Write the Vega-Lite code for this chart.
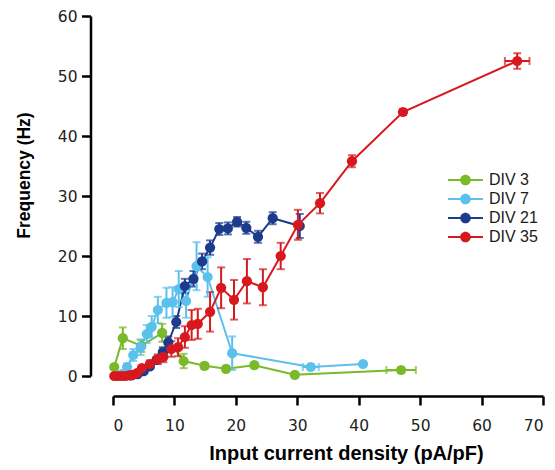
{
  "$schema": "https://vega.github.io/schema/vega-lite/v6.json",
  "width": 430,
  "height": 360,
  "autosize": {"type": "none"},
  "padding": {"left": 113, "top": 16, "right": 12, "bottom": 94},
  "background": "white",
  "data": {"values": [
    {"s":"DIV 3","x":0.2,"y":1.5,"e":0.4},
    {"s":"DIV 3","x":1.6,"y":6.3,"e":1.8},
    {"s":"DIV 3","x":4.6,"y":5.0,"e":1.0},
    {"s":"DIV 3","x":8.0,"y":7.2,"e":1.5},
    {"s":"DIV 3","x":11.5,"y":2.5,"e":1.2},
    {"s":"DIV 3","x":14.9,"y":1.7,"e":0.5},
    {"s":"DIV 3","x":18.4,"y":1.2,"e":0.5},
    {"s":"DIV 3","x":23.0,"y":1.8,"e":0.4},
    {"s":"DIV 3","x":29.6,"y":0.2,"e":0.4},
    {"s":"DIV 3","x":46.9,"y":1.0,"e":0.4,"xe":2.4},
    {"s":"DIV 7","x":1.5,"y":0.3,"e":0.2},
    {"s":"DIV 7","x":2.3,"y":1.5,"e":0.6},
    {"s":"DIV 7","x":3.3,"y":3.5,"e":1.0},
    {"s":"DIV 7","x":4.5,"y":4.8,"e":1.3},
    {"s":"DIV 7","x":5.5,"y":7.0,"e":1.5},
    {"s":"DIV 7","x":6.3,"y":8.2,"e":1.8},
    {"s":"DIV 7","x":7.3,"y":11.0,"e":2.2},
    {"s":"DIV 7","x":8.7,"y":12.2,"e":2.5},
    {"s":"DIV 7","x":9.7,"y":12.3,"e":2.5},
    {"s":"DIV 7","x":10.7,"y":14.5,"e":3.0},
    {"s":"DIV 7","x":11.9,"y":12.5,"e":2.8},
    {"s":"DIV 7","x":13.6,"y":18.3,"e":4.0},
    {"s":"DIV 7","x":15.4,"y":16.5,"e":3.3},
    {"s":"DIV 7","x":19.4,"y":3.8,"e":2.8},
    {"s":"DIV 7","x":32.2,"y":1.5,"e":0.4,"xe":1.3},
    {"s":"DIV 7","x":40.7,"y":2.0,"e":0.3},
    {"s":"DIV 21","x":3.0,"y":0.1,"e":0.1},
    {"s":"DIV 21","x":4.0,"y":0.3,"e":0.2},
    {"s":"DIV 21","x":5.0,"y":0.8,"e":0.3},
    {"s":"DIV 21","x":6.0,"y":1.6,"e":0.4},
    {"s":"DIV 21","x":7.1,"y":2.7,"e":0.5},
    {"s":"DIV 21","x":8.1,"y":4.0,"e":0.8},
    {"s":"DIV 21","x":9.0,"y":5.6,"e":1.0},
    {"s":"DIV 21","x":10.3,"y":9.0,"e":1.0},
    {"s":"DIV 21","x":11.7,"y":15.0,"e":1.2},
    {"s":"DIV 21","x":13.1,"y":16.2,"e":1.3},
    {"s":"DIV 21","x":14.5,"y":19.1,"e":1.3},
    {"s":"DIV 21","x":15.8,"y":21.4,"e":1.2},
    {"s":"DIV 21","x":17.3,"y":24.5,"e":1.0},
    {"s":"DIV 21","x":18.7,"y":24.6,"e":1.0},
    {"s":"DIV 21","x":20.2,"y":25.7,"e":0.8},
    {"s":"DIV 21","x":21.7,"y":24.7,"e":1.0},
    {"s":"DIV 21","x":23.6,"y":23.2,"e":1.0},
    {"s":"DIV 21","x":26.0,"y":26.3,"e":1.0},
    {"s":"DIV 21","x":30.4,"y":25.0,"e":2.0},
    {"s":"DIV 35","x":0.2,"y":0.0,"e":0.1},
    {"s":"DIV 35","x":0.8,"y":0.0,"e":0.1},
    {"s":"DIV 35","x":1.4,"y":0.0,"e":0.1},
    {"s":"DIV 35","x":2.0,"y":0.0,"e":0.1},
    {"s":"DIV 35","x":2.6,"y":0.1,"e":0.1},
    {"s":"DIV 35","x":3.2,"y":0.2,"e":0.2},
    {"s":"DIV 35","x":3.9,"y":0.5,"e":0.3},
    {"s":"DIV 35","x":4.7,"y":1.3,"e":0.4},
    {"s":"DIV 35","x":6.0,"y":2.0,"e":0.6},
    {"s":"DIV 35","x":7.3,"y":2.8,"e":0.8},
    {"s":"DIV 35","x":8.2,"y":3.2,"e":0.9},
    {"s":"DIV 35","x":9.5,"y":4.5,"e":1.3},
    {"s":"DIV 35","x":10.6,"y":4.8,"e":1.5},
    {"s":"DIV 35","x":11.7,"y":6.5,"e":1.8},
    {"s":"DIV 35","x":12.8,"y":8.5,"e":2.5},
    {"s":"DIV 35","x":13.8,"y":8.7,"e":2.5},
    {"s":"DIV 35","x":15.8,"y":10.7,"e":3.3},
    {"s":"DIV 35","x":17.6,"y":14.7,"e":3.4},
    {"s":"DIV 35","x":19.7,"y":12.7,"e":3.3},
    {"s":"DIV 35","x":21.8,"y":15.8,"e":3.7},
    {"s":"DIV 35","x":24.4,"y":14.8,"e":3.0},
    {"s":"DIV 35","x":27.3,"y":20.0,"e":2.2},
    {"s":"DIV 35","x":30.1,"y":25.2,"e":2.5},
    {"s":"DIV 35","x":33.7,"y":28.8,"e":1.7},
    {"s":"DIV 35","x":38.9,"y":35.8,"e":1.0},
    {"s":"DIV 35","x":47.2,"y":44.0,"e":0.5},
    {"s":"DIV 35","x":65.8,"y":52.5,"e":1.3,"xe":2.0}
  ]},
  "encoding": {
    "x": {"field": "x", "type": "quantitative",
      "scale": {"domain": [0, 70], "nice": false},
      "axis": {"values": [0,10,20,30,40,50,60,70], "offset": 20, "title": "Input current density (pA/pF)",
        "titleX": 233, "titleY": 63, "titleBaseline": "alphabetic", "titleFontSize": 20, "labelPadding": 13, "tickSize": 9}},
    "y": {"field": "y", "type": "quantitative",
      "scale": {"domain": [0, 60], "nice": false},
      "axis": {"values": [0,10,20,30,40,50,60], "offset": 22.5, "title": "Frequency (Hz)",
        "titleX": -57.5, "titleY": 159, "titleFontSize": 17.5, "labelPadding": 4.5, "tickSize": 9}},
    "color": {"field": "s", "type": "nominal",
      "scale": {"domain": ["DIV 3","DIV 7","DIV 21","DIV 35"], "range": ["#7ab929","#59c1ec","#1d3b8c","#d7191f"]},
      "legend": {"title": null, "orient": "none", "legendX": 343.5, "legendY": 155,
        "symbolType": "M-1.94,-0.11L1.94,-0.11L1.94,0.11L-1.94,0.11Z M0.59,0A0.59,0.59,0,1,1,-0.59,0A0.59,0.59,0,1,1,0.59,0Z",
        "symbolSize": 324, "symbolStrokeWidth": 0, "labelOffset": 14.5, "rowPadding": 2,
        "labelFont": "Liberation Sans", "labelFontSize": 16, "labelColor": "#1a1a1a", "padding": 0, "symbolOpacity": 1}}
  },
  "layer": [
    {"mark": {"type": "line", "strokeWidth": 2}},
    {"mark": {"type": "errorbar", "ticks": {"size": 8, "thickness": 2}, "rule": {"strokeWidth": 2}},
     "encoding": {"yError": {"field": "e"}}},
    {"transform": [{"filter": "datum.xe > 0"}],
     "mark": {"type": "errorbar", "ticks": {"size": 8, "thickness": 2}, "rule": {"strokeWidth": 2}},
     "encoding": {"xError": {"field": "xe"}}},
    {"mark": {"type": "point", "filled": true, "size": 105, "opacity": 1}}
  ],
  "config": {
    "view": {"stroke": null},
    "axis": {"grid": false, "domainColor": "#000", "domainWidth": 2.5, "tickColor": "#000", "tickWidth": 2.5,
      "labelFont": "DejaVu Sans", "labelFontSize": 15.5, "labelColor": "#222",
      "titleFont": "Liberation Sans", "titleFontWeight": "bold", "titleColor": "#000"}
  }
}
